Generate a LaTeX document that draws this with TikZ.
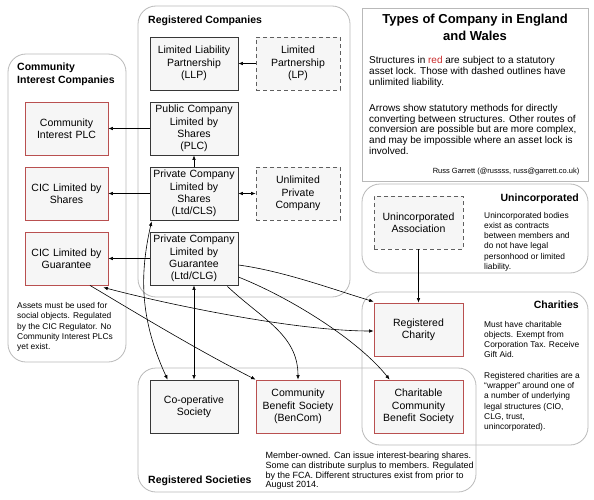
\documentclass[tikz,border=0pt]{standalone}
\usepackage{fontspec}
\setmainfont{Liberation Sans}
\usetikzlibrary{arrows.meta,calc}
\definecolor{boxfill}{RGB}{246,246,246}
\definecolor{boxline}{RGB}{55,55,55}
\definecolor{redline}{RGB}{185,80,80}
\definecolor{redtext}{RGB}{200,40,40}
\definecolor{grpline}{RGB}{185,185,185}
\definecolor{dashline}{RGB}{95,95,95}
\tikzset{
  ent/.style={draw=boxline,fill=boxfill,line width=0.8pt,minimum height=53pt,
    inner sep=1pt,align=center,font=\fontsize{10.5}{12.3}\selectfont},
  w88/.style={minimum width=88pt,text width=86pt},
  w84/.style={minimum width=84pt,text width=82pt},
  redent/.style={ent,draw=redline},
  dashent/.style={ent,draw=dashline,dash pattern=on 4pt off 3pt},
  grp/.style={draw=grpline,line width=0.8pt,rounded corners=18pt},
  grptitle/.style={font=\fontsize{10.5}{12.7}\selectfont\bfseries,inner sep=0pt,align=left},
  note/.style={font=\fontsize{8.4}{10.2}\selectfont,inner sep=0pt,align=left},
  conn/.style={line width=0.6pt,-{Latex[length=4.5pt,width=3.6pt]}},
  conn2/.style={line width=0.6pt,{Latex[length=4.5pt,width=3.6pt]}-{Latex[length=4.5pt,width=3.6pt]}},
}
\begin{document}
\begin{tikzpicture}[x=1pt,y=-1pt]
\useasboundingbox (0,0) rectangle (594,500);
% groups
\draw[grp] (138,6) rectangle (350,297);
\draw[grp] (8,54) rectangle (126,362);
\draw[draw=grpline,line width=0.8pt] (362,8) rectangle (588,181);
\draw[grp] (362,184) rectangle (588,273);
\draw[grp] (362,292) rectangle (588,445);
\draw[grp] (138,368) rectangle (476,492);
% group titles
\node[grptitle,anchor=west] (tRC) at (148,21) {Registered Companies};
\node[grptitle,anchor=west] (tCIC) at (17,74.5) {Community\\Interest Companies};
\node[grptitle,anchor=east] (tUn) at (579,199) {Unincorporated};
\node[grptitle,anchor=east] (tCh) at (579,305) {Charities};
\node[grptitle,anchor=west] (tRS) at (148,481) {Registered Societies};
% title box text
\node[font=\fontsize{13}{17}\selectfont\bfseries,align=center,inner sep=0pt] (title) at (475,27.5) {Types of Company in England\\and Wales};
\node[font=\fontsize{10}{10.8}\selectfont,align=left,inner sep=0pt,anchor=north west] (desc) at (369,56.5)
 {Structures in \textcolor{redtext}{red} are subject to a statutory\\asset lock. Those with dashed outlines have\\unlimited liability.\\[15pt]
  Arrows show statutory methods for directly\\converting between structures. Other routes of\\conversion are possible but are more complex,\\and may be impossible where an asset lock is\\involved.};
\node[font=\fontsize{7.5}{8}\selectfont,inner sep=0pt,anchor=east] (author) at (579.5,172) {Russ Garrett (@russss, russ@garrett.co.uk)};
% notes
\node[note,anchor=north west] (nCIC) at (17,302.5) {Assets must be used for\\social objects. Regulated\\by the CIC Regulator. No\\Community Interest PLCs\\yet exist.};
\node[note,anchor=north west] (nUn) at (484,212) {Unincorporated bodies\\exist as contracts\\between members and\\do not have legal\\personhood or limited\\liability.};
\node[note,anchor=north west] (nCh) at (484,321) {Must have charitable\\objects. Exempt from\\Corporation Tax. Receive\\Gift Aid.\\[10.5pt]Registered charities are a\\“wrapper” around one of\\a number of underlying\\legal structures (CIO,\\CLG, trust,\\unincorporated).};
\node[note,font=\fontsize{9}{9.9}\selectfont,anchor=north west] (nRS) at (265.5,451.5) {Member-owned. Can issue interest-bearing shares.\\Some can distribute surplus to members. Regulated\\by the FCA. Different structures exist from prior to\\August 2014.};
% entities
\node[ent,w88] (LLP) at (194,63.5) {Limited Liability\\Partnership\\(LLP)};
\node[dashent,w84] (LP) at (298,63.5) {Limited\\Partnership\\(LP)};
\node[ent,w88] (PLC) at (194,128.5) {Public Company\\Limited by\\Shares\\(PLC)};
\node[ent,w88] (CLS) at (194,193.5) {Private Company\\Limited by\\Shares\\(Ltd/CLS)};
\node[dashent,w84] (UPC) at (298,193.5) {Unlimited\\Private\\Company};
\node[ent,w88] (CLG) at (194,258.5) {Private Company\\Limited by\\Guarantee\\(Ltd/CLG)};
\node[redent,minimum width=83pt,text width=81pt] (CIPLC) at (66.5,128.5) {Community\\Interest PLC};
\node[redent,minimum width=83pt,text width=81pt] (CICS) at (66.5,193.5) {CIC Limited by\\Shares};
\node[redent,minimum width=83pt,text width=81pt] (CICG) at (66.5,258.5) {CIC Limited by\\Guarantee};
\node[ent,w88] (COOP) at (194,406.5) {Co-operative\\Society};
\node[redent,w84] (BEN) at (298,406.5) {Community\\Benefit Society\\(BenCom)};
\node[redent,minimum width=89pt,text width=87pt] (RCH) at (418.5,329.5) {Registered\\Charity};
\node[redent,minimum width=89pt,text width=87pt] (CCBS) at (418.5,406.5) {Charitable\\Community\\Benefit Society};
\node[dashent,minimum width=89pt,text width=87pt] (UA) at (418.5,222.5) {Unincorporated\\Association};
% connectors
\draw[conn] (LP.west) -- (LLP.east);
\draw[conn] (PLC.west) -- (CIPLC.east);
\draw[conn] (CLS.north) -- (PLC.south);
\draw[conn2] (CLS.east) -- (UPC.west);
\draw[conn] (CLS.west) -- (CICS.east);
\draw[conn] (CLG.west) -- (CICG.east);
\draw[conn2] (CLG.south) -- (COOP.north);
\draw[conn] (UA.south) -- (RCH.north);
\draw[conn2] ($(CLS.south west)+(2,1)$) .. controls +(-12,53) and +(-28,-61) .. ($(COOP.north west)+(18,0)$);
\draw[conn] ($(CLG.east)+(0,6.5)$) .. controls +(45,6) and +(-40,-12) .. ($(RCH.north west)+(0,-1)$);
\draw[conn] ($(CLG.east)+(0,18.5)$) .. controls +(55,22) and +(-30,-38) .. ($(CCBS.north west)+(16,0)$);
\draw[conn] ($(CLG.south east)+(-11,1)$) .. controls +(35,33) and +(0,-45) .. (BEN.north);
\draw[conn] ($(CICG.south)+(23.5,0)$) .. controls +(55,33) and +(-55,-28) .. (BEN.north west);
\draw[conn2] ($(CICG.south east)+(-5,2)$) .. controls +(60,16) and +(-80,0) .. ($(RCH.west)+(0,1.5)$);
\end{tikzpicture}
\end{document}
